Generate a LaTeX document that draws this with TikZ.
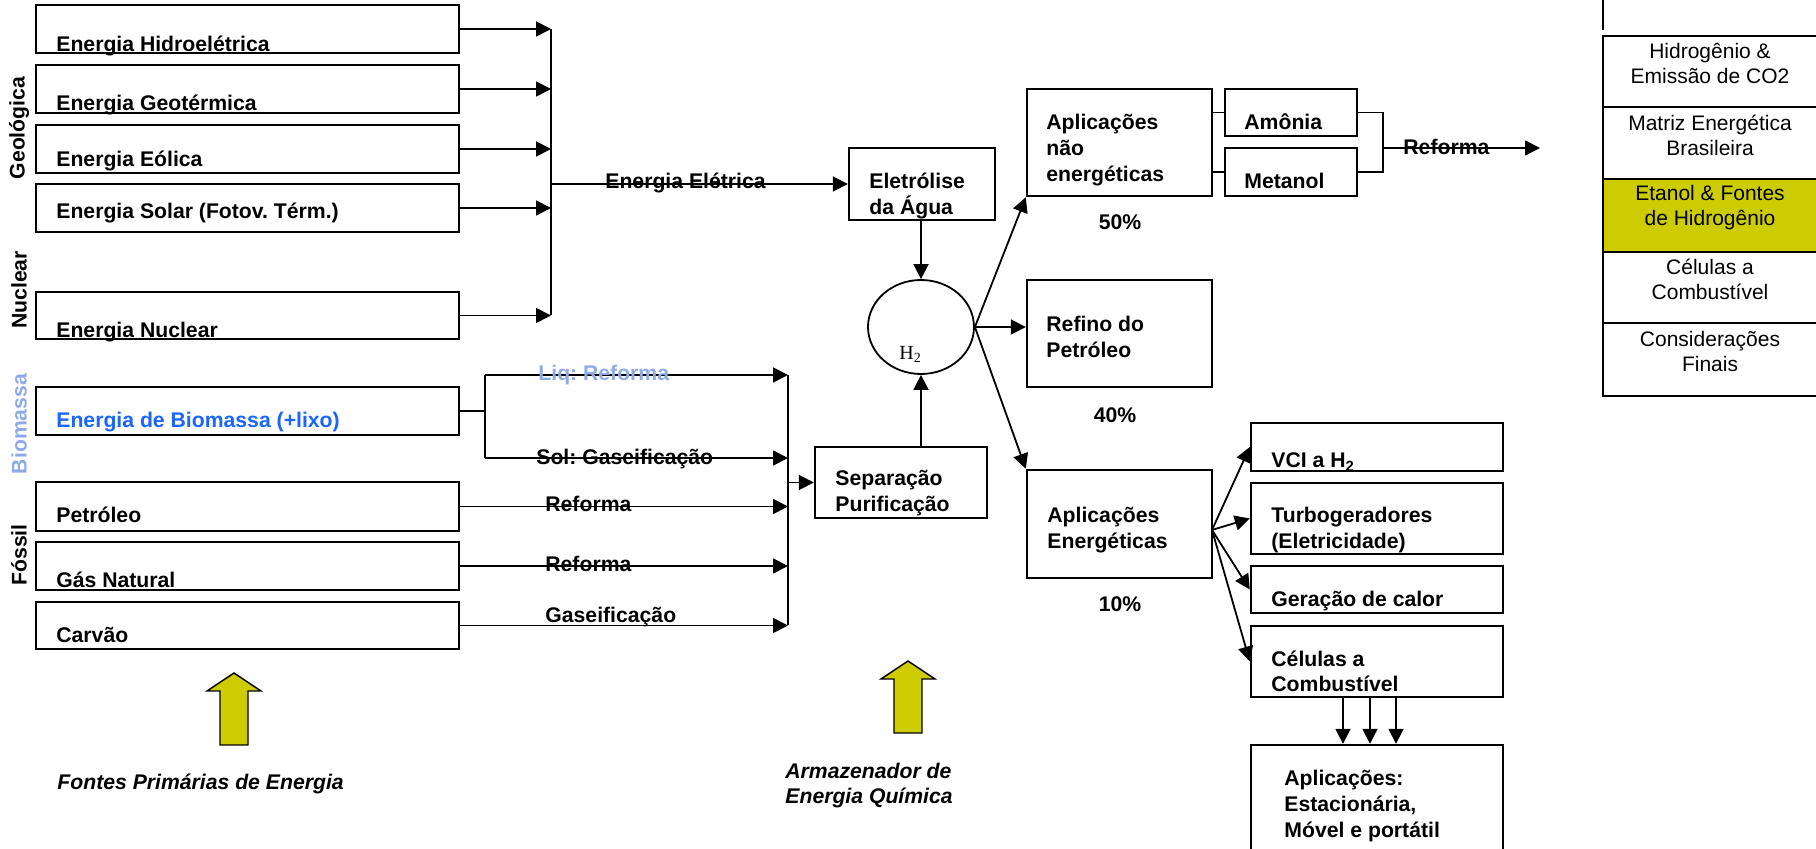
\documentclass[tikz,border=0pt]{standalone}
\usepackage{fontspec}
\setmainfont{Liberation Sans}
\newfontfamily\timesfont{Liberation Serif}
\usetikzlibrary{arrows.meta,shapes.geometric,fit}
\frenchspacing
\definecolor{oliva}{RGB}{204,204,0}
\definecolor{azulbio}{RGB}{26,102,255}
\definecolor{azulclaro}{RGB}{143,170,230}
\tikzset{
  box/.style={draw,line width=1.2pt,inner sep=0pt},
  lbl/.style={font=\fontsize{10.6}{13}\selectfont\bfseries,inner sep=0pt,align=left},
  ln/.style={line width=0.9pt},
  arr/.style={line width=0.9pt,-{Triangle[length=7.5pt,width=7.5pt]}},
  menu/.style={draw,line width=0.9pt,inner sep=0pt,align=center,font=\fontsize{10.5}{12.5}\selectfont},
  bigarrow/.style={fill=oliva,draw=black,line width=0.7pt},
}
\begin{document}
\begin{tikzpicture}[x=0.5pt,y=-0.5pt]
    \useasboundingbox (0,0) rectangle (1816,849);
    \clip (0,0) rectangle (1816,849);
    % fontes primarias
    \foreach \nm/\ya/\yb/\yt/\txt in {
        hidro/5/53/52/Energia Hidroelétrica,
        geo/65/113/110.5/Energia Geotérmica,
        eol/125/173/166.5/Energia Eólica,
        solar/184/232/219/Energia Solar (Fotov. Térm.),
        nuc/292/339/337.5/Energia Nuclear,
        petro/482/531/523/Petróleo,
        gas/542/590/588/Gás Natural,
        carvao/602/649/643/Carvão}{
        \node[box,fit={(36,\ya)(459,\yb)}] (\nm) {};
        \node[lbl,anchor=base west] (\nm-t) at (56,\yt) {\txt};
    }
    \node[box,fit={(36,387)(459,435)}] (bio) {};
    \node[lbl,anchor=base west,text=azulbio] (bio-t) at (56,428) {Energia de Biomassa (+lixo)};
    % grupos
    \node[lbl,rotate=90] (lgeo) at (19,128) {Geológica};
    \node[lbl,rotate=90] (lnuc) at (19,290) {Nuclear};
    \node[lbl,rotate=90,text=azulclaro] (lbio) at (19,424) {Biomassa};
    \node[lbl,rotate=90] (lfos) at (19,555) {Fóssil};
    % energia eletrica
    \coordinate (busA) at (551,0);
    \foreach \nm in {hidro,geo,eol,solar,nuc}
        \draw[arr] (\nm.east) -- (\nm.east -| busA);
    \draw[ln] (hidro.east -| busA) -- (nuc.east -| busA);
    \node[box,fit={(849,148)(995,220)}] (eletr) {};
    \node[lbl,anchor=base west] (eletr-t) at (869,215) {Eletrólise\\da Água};
    \draw[arr] (busA |- eletr.west) -- (eletr.west);
    \node[lbl,anchor=base west] (lelet) at (605,189) {Energia Elétrica};
    % H2
    \node[draw,ellipse,line width=0.9pt,minimum width=53pt,minimum height=47pt,inner sep=0pt] (h2) at (921,327) {};
    \node[font=\timesfont\fontsize{10}{12}\selectfont,anchor=base west,inner sep=0pt] (h2-t) at (899,360) {H\textsubscript{2}};
    \node[box,fit={(815,447)(987,518)}] (sep) {};
    \node[lbl,anchor=base west] (sep-t) at (835,512) {Separação\\Purificação};
    \draw[arr] (eletr.south -| h2) -- (h2.north);
    \draw[arr] (sep.north -| h2) -- (h2.south);
    % reforma e gaseificacao
    \coordinate (busB) at (788,0);
    \coordinate (liq) at (485,375);
    \coordinate (solg) at (485,458);
    \draw[ln] (bio.east) -- (bio.east -| liq);
    \draw[ln] (liq) -- (solg);
    \draw[arr] (liq) -- (liq -| busB);
    \draw[arr] (solg) -- (solg -| busB);
    \foreach \nm in {petro,gas,carvao}
        \draw[arr] (\nm.east) -- (\nm.east -| busB);
    \draw[ln] (liq -| busB) -- (carvao.east -| busB);
    \draw[arr] (busB |- sep.west) -- (sep.west);
    \node[lbl,anchor=base west,text=azulclaro] (lliq) at (538,381) {Liq: Reforma};
    \node[lbl,anchor=base west] (lsol) at (536,465) {Sol: Gaseificação};
    \node[lbl,anchor=base west] (lref1) at (545,512) {Reforma};
    \node[lbl,anchor=base west] (lref2) at (545,572) {Reforma};
    \node[lbl,anchor=base west] (lgas) at (545,623) {Gaseificação};
    % aplicacoes nao energeticas
    \node[box,fit={(1027,89)(1212,196)}] (aplne) {};
    \node[lbl,anchor=base west] (aplne-t) at (1046,182) {Aplicações\\não\\energéticas};
    \node[box,fit={(1225,89)(1357,136)}] (amonia) {};
    \node[lbl,anchor=base west] (amonia-t) at (1244,130) {Amônia};
    \node[box,fit={(1225,148)(1357,196)}] (metanol) {};
    \node[lbl,anchor=base west] (metanol-t) at (1244,189) {Metanol};
    \draw[ln] (aplne.east |- amonia.west) -- (amonia.west);
    \draw[ln] (aplne.east |- metanol.west) -- (metanol.west);
    \coordinate (jref) at (1383,148);
    \coordinate (fref) at (1540,148);
    \draw[ln] (amonia.east) -| (jref) |- (metanol.east);
    \draw[arr] (jref) -- (fref);
    \node[lbl,anchor=base west] (lref3) at (1403,155) {Reforma};
    % refino
    \node[box,fit={(1027,280)(1212,387)}] (refino) {};
    \node[lbl,anchor=base west] (refino-t) at (1046,358) {Refino do\\Petróleo};
    % aplicacoes energeticas
    \node[box,fit={(1027,470)(1212,578)}] (aple) {};
    \node[lbl,anchor=base west] (aple-t) at (1047,549) {Aplicações\\Energéticas};
    \draw[arr] (h2.east) -- (aplne.south west);
    \draw[arr] (h2.east) -- (h2.east -| refino.west);
    \draw[arr] (h2.east) -- (aple.north west);
    \node[lbl,anchor=base] (p50) at (1120,230) {50\%};
    \node[lbl,anchor=base] (p40) at (1115,423) {40\%};
    \node[lbl,anchor=base] (p10) at (1120,612) {10\%};
    % usos finais
    \node[box,fit={(1251,423)(1503,471)}] (vci) {};
    \node[lbl,anchor=base west] (vci-t) at (1271,468) {VCI a H\textsubscript{2}};
    \node[box,fit={(1251,483)(1503,554)}] (turbo) {};
    \node[lbl,anchor=base west] (turbo-t) at (1271,549) {Turbogeradores\\(Eletricidade)};
    \node[box,fit={(1251,566)(1503,613)}] (calor) {};
    \node[lbl,anchor=base west] (calor-t) at (1271,607) {Geração de calor};
    \node[box,fit={(1251,626)(1503,697)}] (celulas) {};
    \node[lbl,anchor=base west] (celulas-t) at (1271,692) {Células a\\Combustível};
    \node[box,fit={(1251,745)(1503,860)}] (final) {};
    \node[lbl,anchor=base west] (final-t) at (1284,837) {Aplicações:\\Estacionária,\\Móvel e portátil};
    \coordinate (fan) at (1212,530);
    \foreach \nm in {vci,turbo,calor,celulas}
        \draw[arr] (fan) -- (\nm.west);
    \foreach \x in {1343,1370,1396}
        \draw[arr] (celulas.south -| \x,0) -- (final.north -| \x,0);
    % menu lateral
    \draw[ln] (1603,0) -- (1603,30);
    \node[menu,fit={(1603,36)(1817,107)}] (m1) {Hidrogênio \&\\Emissão de CO2};
    \node[menu,fit={(1603,107)(1817,179)}] (m2) {Matriz Energética\\Brasileira};
    \node[menu,fill=oliva,fit={(1603,179)(1817,252)}] (m3) {Etanol \& Fontes\\de Hidrogênio};
    \node[menu,fit={(1603,252)(1817,323)}] (m4) {Células a\\Combustível};
    \node[menu,fit={(1603,323)(1817,396)}] (m5) {Considerações\\Finais};
    % setas amarelas
    \foreach \ax/\ay in {234/673,908/661}
        \filldraw[bigarrow] (\ax,\ay) -- ++(27,18) -- ++(-13,0) -- ++(0,54)
            -- ++(-28,0) -- ++(0,-54) -- ++(-13,0) -- cycle;
    \node[lbl,font=\fontsize{10.6}{13}\selectfont\bfseries\itshape,anchor=base west] (lfontes) at (57,790) {Fontes Primárias de Energia};
    \node[lbl,font=\fontsize{10.6}{13}\selectfont\bfseries\itshape,anchor=base west] (larmaz) at (785,804) {Armazenador de\\Energia Química};
\end{tikzpicture}
\end{document}
